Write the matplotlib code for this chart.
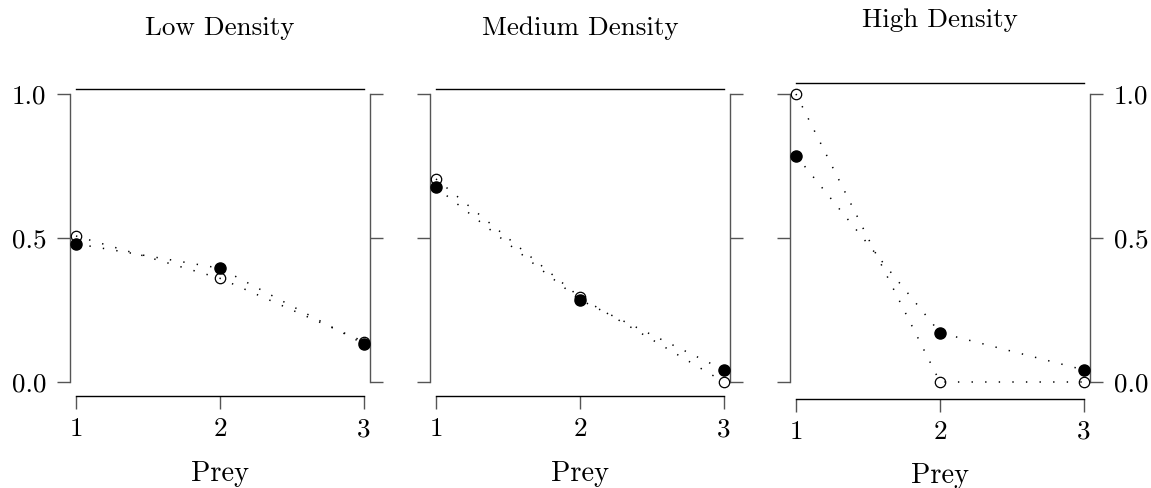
import numpy as np
import matplotlib
matplotlib.use('Agg')
import matplotlib.pyplot as plt

plt.rcParams['font.family'] = 'cmr10'
plt.rcParams['axes.unicode_minus'] = False

# proportion of each prey type eaten, by density treatment
prey = [1, 2, 3]
titles = ['Low Density', 'Medium Density', 'High Density']
observed = [[0.48, 0.395, 0.132],
            [0.676, 0.285, 0.042],
            [0.786, 0.171, 0.042]]
expected = [[0.507, 0.36, 0.14],
            [0.705, 0.294, 0.0],
            [1.0, 0.0, 0.0]]
yticks = [0.0, 0.5, 1.0]
yticklabels = ['0.0', '0.5', '1.0']

W, H = 1151, 488
fig = plt.figure(figsize=(W / 100, H / 100), dpi=100)

lefts = [70, 430, 790]
top_line = [1.017, 1.017, 1.038]
bottom_offset = [10, 10, 12]
title_y = [1.171, 1.171, 1.197]
xlabel_y = [-0.304, -0.304, -0.311]
spine_col = '#555555'
dots = (0, (0.9, 8))

for i in range(3):
    ax = fig.add_axes([lefts[i] / W, (H - 382) / H, 300 / W, 302.4 / H])
    ax.set_xlim(1 - 6 / 144, 3 + 6 / 144)
    ax.set_ylim(0, 1.05)

    ax.plot(prey, expected[i], 'o', mfc='white', mec='black', mew=0.9, ms=7.5,
            linestyle='none', zorder=3, clip_on=False)
    ax.plot(prey, observed[i], 'o', mfc='black', mec='black', ms=8,
            linestyle='none', zorder=4, clip_on=False)
    ax.plot(prey, expected[i], linestyle=dots, color='black', lw=1.1,
            zorder=5, clip_on=False)
    ax.plot(prey, observed[i], linestyle=dots, color='black', lw=1.1,
            zorder=5, clip_on=False)

    # range-frame style axes
    for side in ['left', 'right']:
        ax.spines[side].set_bounds(0, 1)
        ax.spines[side].set_color(spine_col)
        ax.spines[side].set_linewidth(1.0)
    ax.spines['top'].set_bounds(1, 3)
    ax.spines['top'].set_position(('data', top_line[i]))
    ax.spines['top'].set_linewidth(1.0)
    ax.spines['bottom'].set_bounds(1, 3)
    ax.spines['bottom'].set_position(('outward', bottom_offset[i]))
    ax.spines['bottom'].set_linewidth(1.0)

    ax.set_xticks(prey)
    ax.set_xticklabels([str(p) for p in prey])
    ax.tick_params(axis='x', direction='out', length=9.5, width=1.0,
                   color=spine_col, labelsize=19.5, pad=6)

    ax.set_yticks(yticks)
    ax.yaxis.set_ticks_position('both')
    ax.tick_params(axis='y', direction='out', length=9.5, width=1.0,
                   color=spine_col, labelsize=19.5, pad=7.5,
                   labelleft=(i == 0), labelright=(i == 2))
    ax.set_yticklabels(yticklabels)

    ax.text(0.5, title_y[i], titles[i], transform=ax.transAxes,
            ha='center', va='center', fontsize=19.5)
    ax.text(0.5, xlabel_y[i], 'Prey', transform=ax.transAxes,
            ha='center', va='center', fontsize=20.5)

plt.savefig('out.png', dpi=100)
